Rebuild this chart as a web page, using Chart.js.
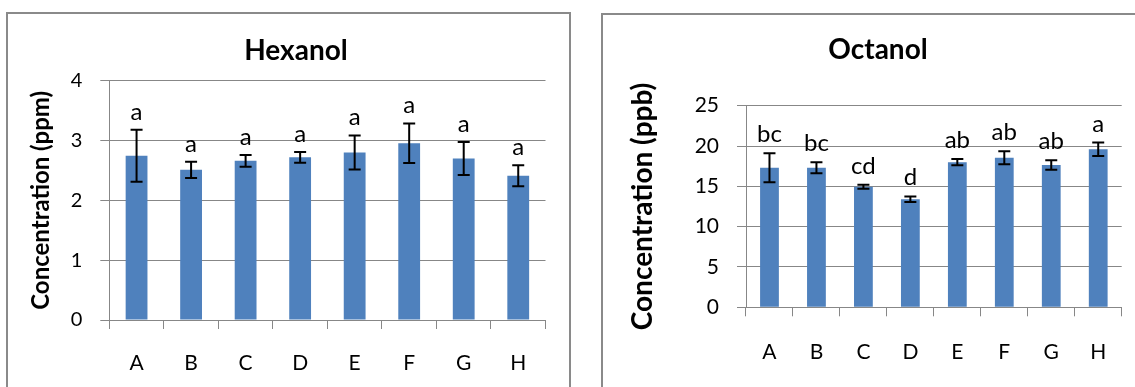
<!DOCTYPE html>
<html>
<head>
<meta charset="utf-8">
<script src="https://cdn.jsdelivr.net/npm/chart.js@4/dist/chart.umd.min.js"></script>
<style>
  html, body { margin: 0; padding: 0; background: #fff; overflow: hidden; width: 1135px; height: 387px; }
  .frame { position: absolute; border: 2px solid #8a8a8a; box-sizing: border-box; }
  #frameHex { left: 6px; top: 12px; width: 565px; height: 420px; }
  #frameOct { left: 601px; top: 13px; width: 560px; height: 420px; }
  canvas { position: absolute; top: 0; }
  #hexanol { left: 0; }
  #octanol { left: 590px; }
</style>
</head>
<body>
<div class="frame" id="frameHex"></div>
<div class="frame" id="frameOct"></div>
<canvas id="hexanol" width="592" height="387"></canvas>
<canvas id="octanol" width="576" height="387"></canvas>
<script>
// Treatments
const categories = ['A', 'B', 'C', 'D', 'E', 'F', 'G', 'H'];

// Hexanol (ppm): means, error-bar half-widths, significance letters
const hexanolMean = [2.745, 2.51, 2.66, 2.72, 2.80, 2.955, 2.70, 2.41];
const hexanolErr = [0.435, 0.135, 0.10, 0.09, 0.285, 0.33, 0.275, 0.175];
const hexanolLetters = ['a', 'a', 'a', 'a', 'a', 'a', 'a', 'a'];
const hexanolTicks = [0, 1, 2, 3, 4];

// Octanol (ppb)
const octanolMean = [17.3, 17.3, 14.95, 13.4, 18.0, 18.55, 17.65, 19.6];
const octanolErr = [1.8, 0.68, 0.25, 0.35, 0.38, 0.8, 0.58, 0.83];
const octanolLetters = ['bc', 'bc', 'cd', 'd', 'ab', 'ab', 'ab', 'a'];
const octanolTicks = [0, 5, 10, 15, 20, 25];

const FONT = "Lato, 'Open Sans', sans-serif";
const BAR = '#4F81BD';
const GRID = '#878787';

// Error bars plus the letter printed above each one
const errorBarPlugin = {
  id: 'errorBars',
  afterDatasetsDraw(chart, args, opts) {
    const { ctx } = chart;
    const y = chart.scales.y;
    const meta = chart.getDatasetMeta(0);
    ctx.save();
    ctx.strokeStyle = '#000';
    ctx.lineWidth = 2;
    ctx.fillStyle = '#000';
    ctx.font = `${opts.letterSize}px ${FONT}`;
    ctx.textAlign = 'center';
    ctx.textBaseline = 'alphabetic';
    meta.data.forEach((bar, i) => {
      const v = opts.means[i], e = opts.errors[i];
      const top = y.getPixelForValue(v + e);
      const bot = y.getPixelForValue(v - e);
      const x = bar.x;
      ctx.beginPath();
      ctx.moveTo(x, top); ctx.lineTo(x, bot);
      ctx.moveTo(x - opts.cap, top); ctx.lineTo(x + opts.cap, top);
      ctx.moveTo(x - opts.cap, bot); ctx.lineTo(x + opts.cap, bot);
      ctx.stroke();
      ctx.fillText(opts.letters[i], x, top - opts.letterGap);
    });
    ctx.restore();
  }
};

// Chart heading centred on the canvas
const headingPlugin = {
  id: 'heading',
  afterDraw(chart, args, opts) {
    const { ctx } = chart;
    ctx.save();
    ctx.fillStyle = '#000';
    ctx.font = `bold ${opts.size}px ${FONT}`;
    ctx.textAlign = 'center';
    ctx.textBaseline = 'middle';
    ctx.fillText(opts.text, chart.width / 2, opts.y);
    ctx.restore();
  }
};

function makeChart(id, c) {
  return new Chart(document.getElementById(id), {
    type: 'bar',
    data: {
      labels: categories,
      datasets: [{
        data: c.means,
        backgroundColor: BAR,
        borderWidth: 0,
        barPercentage: 0.4,
        categoryPercentage: 1
      }]
    },
    options: {
      responsive: false,
      animation: false,
      events: [],
      layout: { padding: { left: 0, right: c.padRight, top: c.padTop, bottom: 0 } },
      plugins: {
        legend: { display: false },
        tooltip: { enabled: false },
        title: { display: false },
        heading: { text: c.title, size: 28, y: c.titleY },
        errorBars: {
          means: c.means, errors: c.errors, letters: c.letters,
          cap: 6, letterGap: c.letterGap, letterSize: 24
        }
      },
      scales: {
        x: {
          grid: { display: true, drawOnChartArea: false, drawTicks: true, tickLength: 9, offset: true, color: GRID },
          border: { display: true, color: GRID },
          ticks: { font: { family: FONT, size: 21 }, color: '#000', padding: c.xPad },
          afterFit: s => { s.height = c.xHeight; }
        },
        y: {
          min: c.ticks[0],
          max: c.ticks[c.ticks.length - 1],
          ticks: { stepSize: c.ticks[1] - c.ticks[0], font: { family: FONT, size: c.tickSize }, color: '#000', padding: 18 },
          grid: { color: GRID, tickLength: 9 },
          border: { display: true, color: GRID },
          title: {
            display: true, text: c.yTitle, color: '#000',
            font: { family: FONT, size: c.yTitleSize, weight: 'bold' },
            padding: { top: c.yTitlePad, bottom: 0 }
          },
          afterFit: s => { s.width = c.yWidth; }
        }
      }
    },
    plugins: [errorBarPlugin, headingPlugin]
  });
}

makeChart('hexanol', {
  title: 'Hexanol', titleY: 51,
  means: hexanolMean, errors: hexanolErr, letters: hexanolLetters, ticks: hexanolTicks,
  yTitle: 'Concentration (ppm)', yTitleSize: 24, yTitlePad: 26.5,
  tickSize: 20, yWidth: 109.3, padRight: 46.5, padTop: 80.7,
  xHeight: 67, xPad: 21.5, letterGap: 10
});

makeChart('octanol', {
  title: 'Octanol', titleY: 49.5,
  means: octanolMean, errors: octanolErr, letters: octanolLetters, ticks: octanolTicks,
  yTitle: 'Concentration (ppb)', yTitleSize: 28, yTitlePad: 36,
  tickSize: 21, yWidth: 156, padRight: 44.3, padTop: 105.7,
  xHeight: 79.7, xPad: 23.5, letterGap: 11
});
</script>
</body>
</html>
